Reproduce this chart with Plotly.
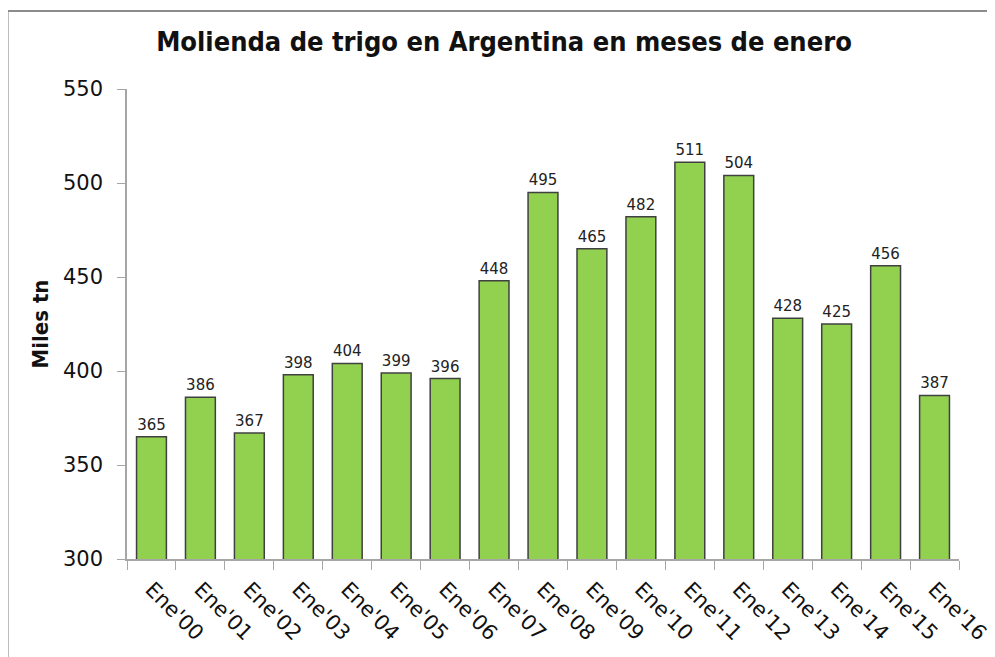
import plotly.graph_objects as go

categories = ["Ene'00", "Ene'01", "Ene'02", "Ene'03", "Ene'04", "Ene'05", "Ene'06", "Ene'07",
              "Ene'08", "Ene'09", "Ene'10", "Ene'11", "Ene'12", "Ene'13", "Ene'14", "Ene'15", "Ene'16"]
values = [365, 386, 367, 398, 404, 399, 396, 448, 495, 465, 482, 511, 504, 428, 425, 456, 387]
y_ticks = [300, 350, 400, 450, 500, 550]

W, H = 995, 657
OFF = 8  # page body margin
L, R, T, B = 127, 32, 89, 98  # desired plot area in page pixels
ml, mt = L - OFF, T - OFF
mr, mb = R + OFF, B + OFF
pw, ph = W - L - R, H - T - B

fig = go.Figure()
fig.add_trace(go.Bar(
    x=categories, y=values,
    marker=dict(color="#92D050", line=dict(color="#404040", width=1.5)),
    text=[str(v) for v in values], textposition="outside",
    textfont=dict(family="DejaVu Sans", size=15, color="#222222"),
    cliponaxis=False,
))

fig.update_layout(
    width=W, height=H,
    margin=dict(l=ml, r=mr, t=mt, b=mb),
    paper_bgcolor="white", plot_bgcolor="white",
    bargap=0.39,
    showlegend=False,
    title=dict(text="Molienda de trigo en Argentina en meses de enero",
               font=dict(family="DejaVu Sans Condensed", size=27, color="#111111", weight="bold"),
               x=(504 - OFF) / W, xref="container", xanchor="center",
               y=1 - (42 - OFF) / H, yref="container", yanchor="middle"),
    xaxis=dict(type="category", showline=True, linecolor="#a6a6a6", linewidth=1.5,
               ticks="outside", tickson="boundaries", ticklen=9, tickcolor="#a6a6a6",
               ticklabelstandoff=8,
               tickangle=45, tickfont=dict(family="DejaVu Sans", size=21, color="#111111"),
               showgrid=False),
    yaxis=dict(range=[300, 550], tickvals=y_ticks, showline=True, linecolor="#a6a6a6",
               linewidth=1.5, ticks="outside", ticklen=8, tickcolor="#a6a6a6",
               ticklabelstandoff=10,
               tickfont=dict(family="DejaVu Sans", size=21, color="#111111"),
               showgrid=False, zeroline=False,
               title=dict(text="<b>Miles tn</b>", standoff=8,
                          font=dict(family="DejaVu Sans Condensed", size=22, color="#111111"))),
)

fig.add_shape(type="rect", xref="paper", yref="paper",
              x0=(7 - L) / pw, x1=1.2, y0=-0.5, y1=(H - B - 11) / ph,
              line=dict(color="#8c8c8c", width=2), fillcolor="rgba(0,0,0,0)", layer="below")

fig.write_html("out.html")
